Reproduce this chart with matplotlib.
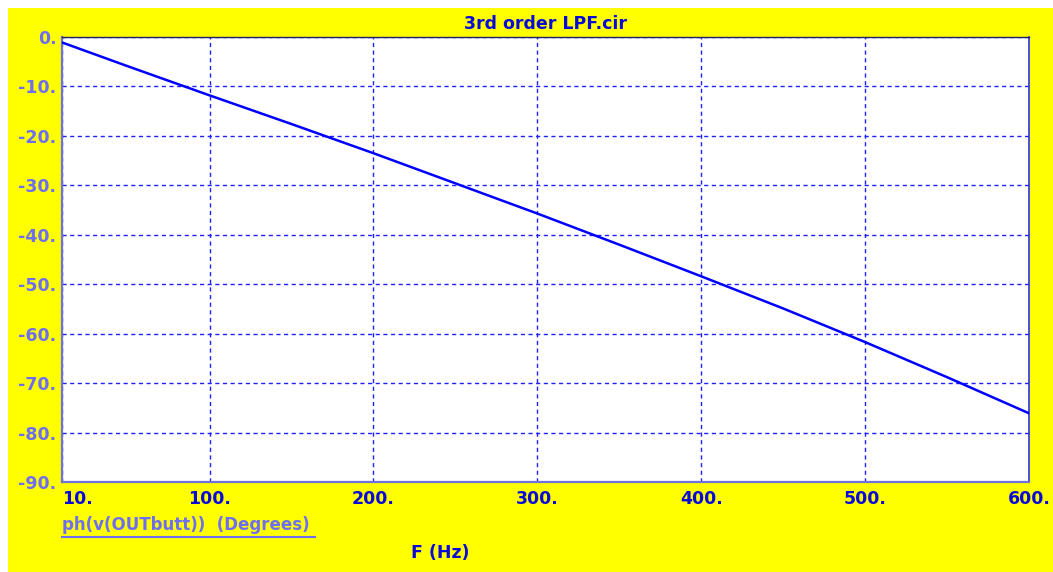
import matplotlib
matplotlib.use("Agg")
import matplotlib.pyplot as plt
from matplotlib.lines import Line2D
from matplotlib.patches import Rectangle

# phase of v(OUTbutt)
freq_hz = [10, 50, 100, 150, 200, 250, 300, 350, 400, 450, 500, 550, 600]
phase_deg = [-1.1, -5.9, -11.8, -17.6, -23.5, -29.6, -35.7, -42.0, -48.4,
             -54.9, -61.7, -68.8, -76.1]

x_ticks = [10, 100, 200, 300, 400, 500, 600]
y_ticks = [0, -10, -20, -30, -40, -50, -60, -70, -80, -90]

title = "3rd order LPF.cir"
trace_label = "ph(v(OUTbutt))  (Degrees)"
x_label = "F (Hz)"

yellow = '#ffff00'
dark_blue = '#0a0ad8'
light_blue = '#6e6ef2'

W, H = 1053, 572
fig = plt.figure(figsize=(W / 100, H / 100), dpi=100)
fig.patch.set_facecolor('white')
fig.patches.append(Rectangle((8 / W, 0), 1 - 8 / W, 1 - 8 / H,
                             transform=fig.transFigure, facecolor=yellow,
                             edgecolor='none', zorder=-10))

ax = fig.add_axes([62 / W, 1 - 482 / H, (1029 - 62) / W, (482 - 37) / H])
ax.set_facecolor('white')
ax.plot(freq_hz, phase_deg, color='#0000ff', linewidth=1.8, zorder=5)

ax.set_xlim(10, 600)
ax.set_ylim(-90, 0)
ax.set_xticks(x_ticks)
ax.set_yticks(y_ticks)
ax.set_xticklabels(["{}.".format(v) for v in x_ticks], fontsize=12.5,
                   fontweight='bold', color=dark_blue)
ax.set_yticklabels(["{}.".format(v) for v in y_ticks], fontsize=12.5,
                   fontweight='bold', color=light_blue)
ax.get_xticklabels()[0].set_horizontalalignment('left')
ax.tick_params(axis='both', length=0)
ax.tick_params(axis='x', pad=6)
ax.tick_params(axis='y', pad=4)

ax.grid(True, color='#2020ff', linestyle=(0, (3, 2.5)), linewidth=1.0)

for side in ['left', 'bottom']:
    ax.spines[side].set_color('#7070e0')
    ax.spines[side].set_linewidth(1.6)
ax.spines['top'].set_color('#20206a')
ax.spines['top'].set_linewidth(1.0)
ax.spines['right'].set_color('#3030f0')
ax.spines['right'].set_linewidth(1.2)

fig.text(545 / W, 1 - 24 / H, title, ha='center', va='center',
         fontsize=12.5, fontweight='bold', color=dark_blue)
fig.text(62 / W, 1 - 525 / H, trace_label, ha='left', va='center',
         fontsize=12, fontweight='bold', color=light_blue)
fig.lines.append(Line2D([62 / W, 315 / W], [1 - 537 / H, 1 - 537 / H],
                        transform=fig.transFigure, color=light_blue,
                        linewidth=1.5))
fig.text(440 / W, 1 - 553 / H, x_label, ha='center', va='center',
         fontsize=12.5, fontweight='bold', color=dark_blue)

fig.savefig('out.png', dpi=100, facecolor=fig.get_facecolor())
